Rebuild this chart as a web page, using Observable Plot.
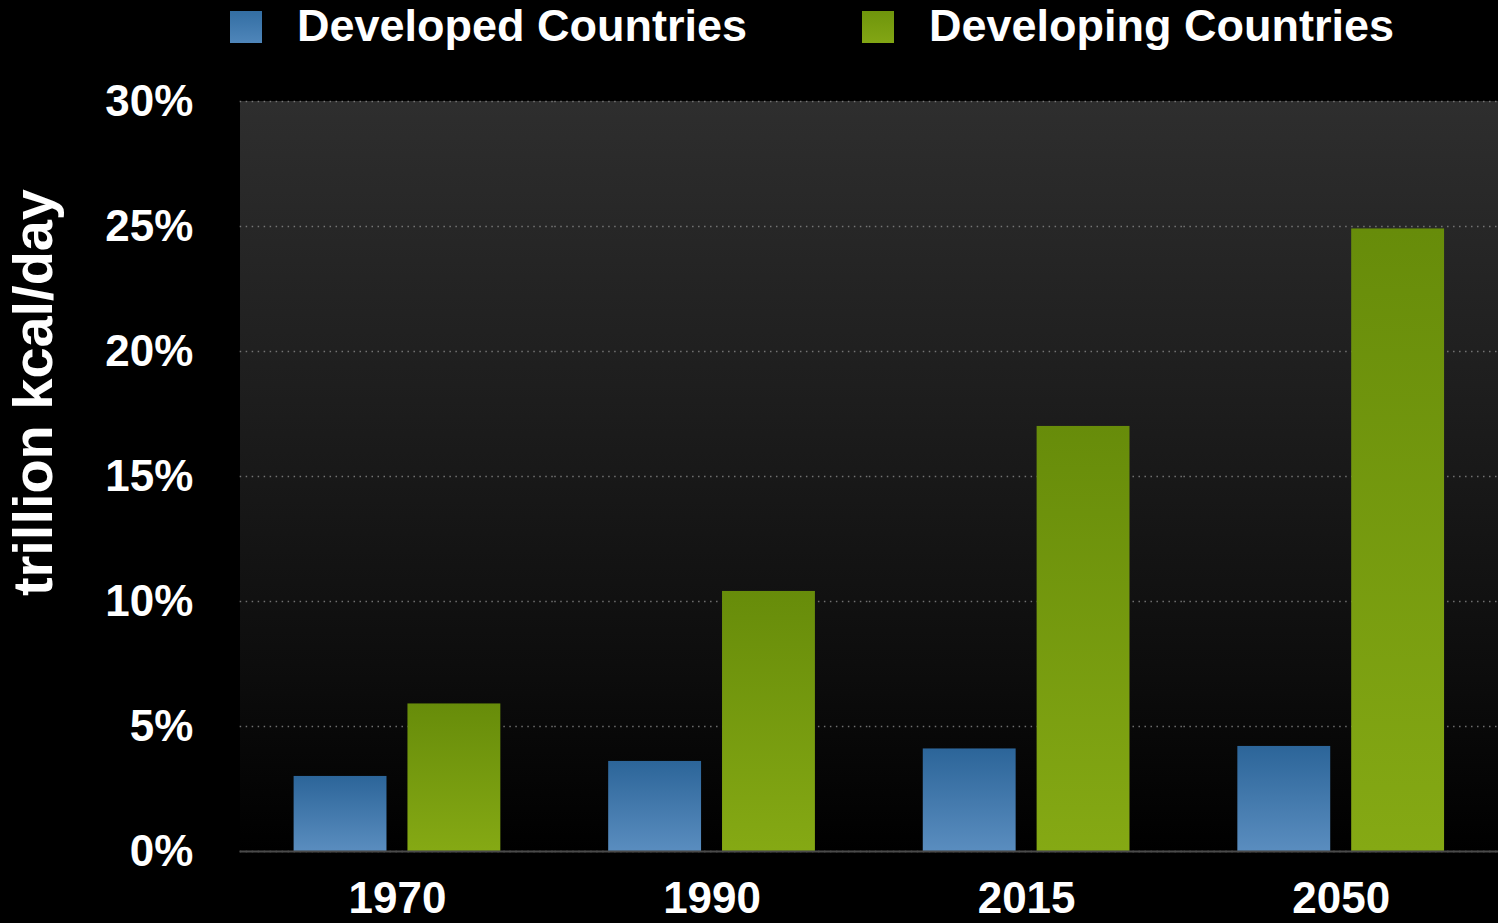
<!DOCTYPE html>
<html>
<head>
<meta charset="utf-8">
<script src="https://cdn.jsdelivr.net/npm/d3@7"></script>
<script src="https://cdn.jsdelivr.net/npm/@observablehq/plot@0.6"></script>
<style>
  html, body { margin: 0; padding: 0; background: #000; overflow: hidden; }
  body { width: 1498px; height: 923px; font-family: "Liberation Sans", Arial, Helvetica, sans-serif; }
  #legend { position: relative; height: 60px; color: #fff; font-weight: bold; font-size: 45px; }
  #legend .item { position: absolute; top: 0; height: 52px; display: flex; align-items: center; white-space: nowrap; }
  #legend .sw { width: 32px; height: 32px; margin-right: 35px; margin-top: 2px; }
  #chart { width: 1498px; overflow: hidden; }
  #chart svg { display: block; }
</style>
</head>
<body>
<div id="legend"></div>
<div id="chart"></div>
<script>
const years = ["1970", "1990", "2015", "2050"];
const seriesNames = ["Developed Countries", "Developing Countries"];
const developed = [3.0, 3.6, 4.1, 4.2];
const developing = [5.9, 10.4, 17.0, 24.9];
const yTicks = [0, 5, 10, 15, 20, 25, 30];
const yLabel = "trillion kcal/day";

const data = [];
years.forEach((yr, i) => {
  data.push({year: yr, series: seriesNames[0], value: developed[i]});
  data.push({year: yr, series: seriesNames[1], value: developing[i]});
});

// legend
const legend = document.getElementById("legend");
const legendSpec = [
  {name: seriesNames[0], grad: "linear-gradient(#336ea3, #4f86ba)", left: 230},
  {name: seriesNames[1], grad: "linear-gradient(#6f950c, #82a614)", left: 862}
];
legendSpec.forEach(s => {
  const it = document.createElement("div");
  it.className = "item";
  it.style.left = s.left + "px";
  const sw = document.createElement("div");
  sw.className = "sw";
  sw.style.background = s.grad;
  const tx = document.createElement("span");
  tx.textContent = s.name;
  it.appendChild(sw);
  it.appendChild(tx);
  legend.appendChild(it);
});

const chart = Plot.plot({
  width: 1500,
  height: 863,
  marginLeft: 240,
  marginRight: 0,
  marginTop: 41,
  marginBottom: 71,
  style: {
    background: "#000",
    color: "#fff",
    fontFamily: "'Liberation Sans', Arial, Helvetica, sans-serif",
    fontSize: "44px",
    fontWeight: "bold",
    overflow: "visible"
  },
  fx: {domain: years, padding: 0, label: null},
  x: {domain: seriesNames, paddingInner: 0.18, paddingOuter: 0.47, axis: null},
  y: {domain: [0, 30], label: null},
  color: {domain: seriesNames, range: ["url(#gradBlue)", "url(#gradGreen)"]},
  marks: [
    Plot.frame({fill: "url(#gradBg)", stroke: null, shapeRendering: "crispEdges"}),
    Plot.gridY(yTicks, {stroke: "#8a8a8a", strokeOpacity: 0.8, strokeWidth: 1.5, strokeDasharray: "1.5,4.5"}),
    Plot.barY(data, {fx: "year", x: "series", y: "value", fill: "series"}),
    Plot.ruleY([0], {stroke: "#4a4a4a", strokeWidth: 2}),
    Plot.axisFx({anchor: "bottom", tickSize: 0, tickPadding: 30, label: null}),
    Plot.axisY(yTicks, {
      anchor: "left", tickSize: 0, tickPadding: 47, line: true,
      tickFormat: d => d + "%",
      label: yLabel, labelAnchor: "center", labelOffset: 228, labelArrow: "none"
    })
  ]
});

document.getElementById("chart").appendChild(chart);

// gradients
const svg = d3.select(chart);
const defs = svg.insert("defs", ":first-child");
function grad(id, stops) {
  const g = defs.append("linearGradient").attr("id", id)
    .attr("x1", 0).attr("y1", 0).attr("x2", 0).attr("y2", 1);
  stops.forEach(([o, c]) => g.append("stop").attr("offset", o).attr("stop-color", c));
}
grad("gradBlue", [[0, "#2c6599"], [1, "#5a8dbf"]]);
grad("gradGreen", [[0, "#678c0a"], [1, "#85a914"]]);
grad("gradBg", [[0, "#2e2e2e"], [0.4, "#1d1d1d"], [0.75, "#0d0d0d"], [1, "#000"]]);

// axis line colour and label size/position
svg.selectAll("[aria-label='y-axis tick'] path, [aria-label='y-axis line'] path, [aria-label^='y-axis'] line")
  .attr("stroke", "#555");
svg.selectAll("[aria-label='y-axis label'] text")
  .style("font-size", "56px")
  .attr("dx", 84);
</script>
</body>
</html>
